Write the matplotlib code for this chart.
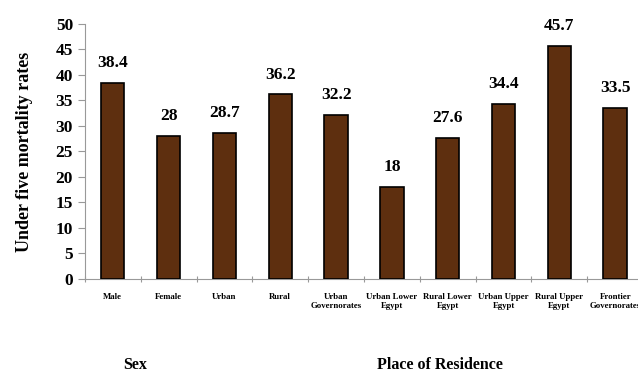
import matplotlib.pyplot as plt
import numpy as np

categories = ["Male", "Female", "Urban", "Rural", "Urban\nGovernorates",
              "Urban Lower\nEgypt", "Rural Lower\nEgypt", "Urban Upper\nEgypt",
              "Rural Upper\nEgypt", "Frontier\nGovernorates"]
values = [38.4, 28, 28.7, 36.2, 32.2, 18, 27.6, 34.4, 45.7, 33.5]
value_labels = ["38.4", "28", "28.7", "36.2", "32.2", "18", "27.6", "34.4", "45.7", "33.5"]

plt.rcParams['font.family'] = ['Liberation Serif', 'DejaVu Serif']
plt.rcParams['font.weight'] = 'bold'

fig = plt.figure(figsize=(6.38, 3.74), dpi=100)
ax = fig.add_axes([0.133, 0.254, 0.875, 0.682])

x = np.arange(len(categories))
ax.bar(x, values, width=0.42, color="#5e2f0f", edgecolor="black", linewidth=1.2, zorder=3)
for xi, v, lab in zip(x, values, value_labels):
    ax.text(xi, v + 2.3, lab, ha="center", va="bottom", fontsize=12.5, fontweight="bold")

ax.set_xlim(-0.5, 9.5)
ax.set_ylim(0, 50)
ax.set_yticks(range(0, 51, 5))
ax.set_xticks(np.arange(-0.5, 10, 1.0), minor=False)
ax.set_xticklabels([])
ax.set_xticks(x, minor=True)
ax.set_xticklabels(categories, minor=True, fontsize=6.3, fontweight="bold")
ax.tick_params(axis="x", which="minor", length=0, pad=10)
ax.tick_params(axis="x", which="major", length=4, direction="inout", color="#999999")
ax.tick_params(axis="y", labelsize=12.5, length=5, color="#999999", direction="out")
for lab in ax.get_yticklabels():
    lab.set_fontweight("bold")

for s in ["top", "right"]:
    ax.spines[s].set_visible(False)
ax.spines["left"].set_color("#999999")
ax.spines["bottom"].set_color("#999999")

ax.set_ylabel("Under five mortality rates", fontsize=13, fontweight="bold", labelpad=16)

fig.text(135 / 638, 1 - 365 / 374, "Sex", ha="center", va="center", fontsize=11.5, fontweight="bold")
fig.text(440 / 638, 1 - 365 / 374, "Place of Residence", ha="center", va="center",
         fontsize=11.5, fontweight="bold")

fig.savefig("out.png", dpi=100)
